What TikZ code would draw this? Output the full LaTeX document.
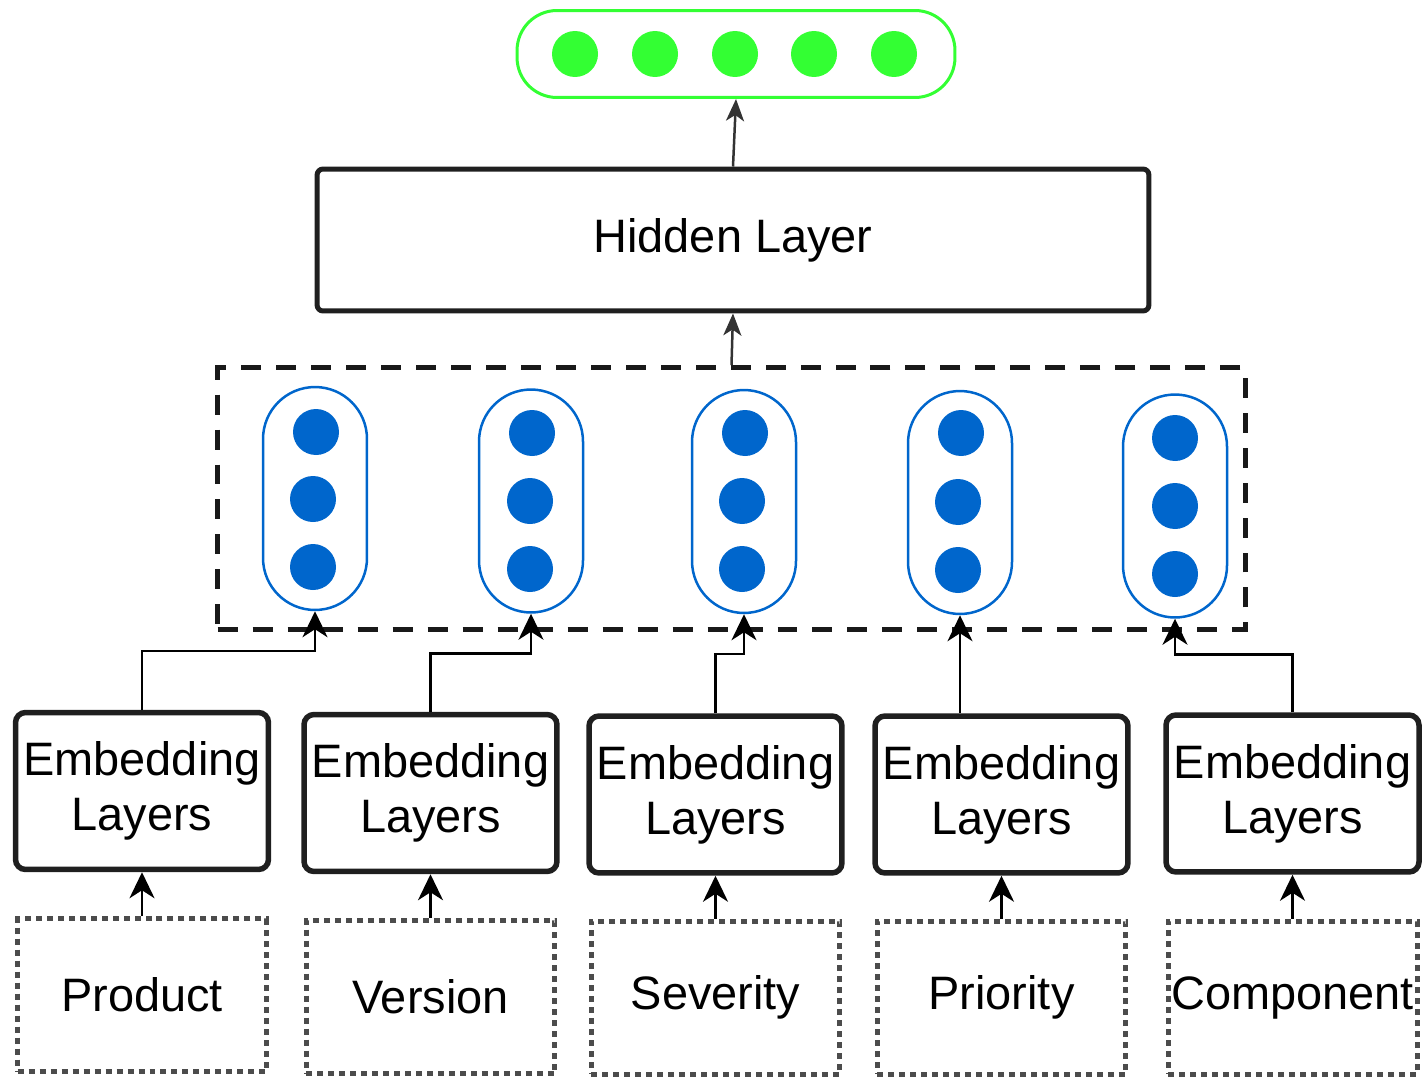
\documentclass[tikz,border=0pt]{standalone}
\usepackage{fontspec}
\setmainfont{Liberation Sans}
\usepackage{xcolor}
\usepackage{tikz}
\usetikzlibrary{arrows.meta,calc,positioning}
\definecolor{dotgreen}{HTML}{33FF33}
\definecolor{dotblue}{HTML}{0066CC}

\begin{document}
\begin{tikzpicture}[x=0.02cm, y=-0.02cm, font=\fontsize{26.7}{31.3}\selectfont,
  block/.style={rectangle,draw=black!88,line width=0.11cm,rounded corners=0.2cm,inner sep=0pt,align=center,minimum width=5.06cm,minimum height=3.14cm},
  input/.style={rectangle,draw=black!70,line width=0.1cm,dash pattern=on 0.12cm off 0.1cm,inner sep=0pt,minimum width=4.98cm,minimum height=3.06cm},
  capsule/.style={rectangle,draw=dotblue,line width=0.05cm,rounded corners=1.04cm,minimum width=2.08cm,minimum height=4.46cm},
  bdot/.style={circle,fill=dotblue,inner sep=0pt,minimum size=0.92cm},
  gdot/.style={circle,fill=dotgreen,inner sep=0pt,minimum size=0.92cm},
  conn/.style={-{Stealth[length=0.52cm,width=0.5cm,inset=0.16cm]},line width=0.05cm},
  up/.style={-{Stealth[length=0.44cm,width=0.36cm,inset=0.12cm]},draw=black!80,line width=0.05cm}]

\useasboundingbox (0,0) rectangle (1425,1078);

\node[draw=dotgreen,line width=0.06cm,rounded corners=0.8cm,minimum width=8.76cm,minimum height=1.74cm] (out) at (736,54) {};
\node[gdot] (g1) at (575,54) {};
\node[gdot] (g2) at (655,54) {};
\node[gdot] (g3) at (735,54) {};
\node[gdot] (g4) at (814,54) {};
\node[gdot] (g5) at (894,54) {};

\node[draw=black!88,line width=0.1cm,rounded corners=0.12cm,minimum width=16.64cm,minimum height=2.84cm] (hidden) at (733,240) {Hidden Layer};

\node[draw=black!90,line width=0.1cm,dash pattern=on 0.4cm off 0.3cm,minimum width=20.56cm,minimum height=5.24cm] (concat) at (731.5,498.5) {};

\node[capsule] (cap1) at (315,498.5) {};
\node[capsule] (cap2) at (531,501) {};
\node[capsule] (cap3) at (744,501.5) {};
\node[capsule] (cap4) at (960,502.5) {};
\node[capsule] (cap5) at (1175,506) {};

\node[bdot] (d11) at (316,432) {};
\node[bdot] (d12) at (313,499) {};
\node[bdot] (d13) at (313,567) {};
\node[bdot] (d21) at (532,433) {};
\node[bdot] (d22) at (530,501) {};
\node[bdot] (d23) at (530,569) {};
\node[bdot] (d31) at (745,433) {};
\node[bdot] (d32) at (742,501) {};
\node[bdot] (d33) at (742,569) {};
\node[bdot] (d41) at (961,433) {};
\node[bdot] (d42) at (958,502) {};
\node[bdot] (d43) at (958,570) {};
\node[bdot] (d51) at (1175,438) {};
\node[bdot] (d52) at (1175,506) {};
\node[bdot] (d53) at (1175,574) {};

\node[block] (emb1) at (142,791) {Embedding\\Layers};
\node[block] (emb2) at (430.5,793) {Embedding\\Layers};
\node[block] (emb3) at (715.5,794.5) {Embedding\\Layers};
\node[block] (emb4) at (1001.5,794.5) {Embedding\\Layers};
\node[block] (emb5) at (1292.5,793.5) {Embedding\\Layers};

\node[input] (in1) at (142,995) {Product};
\node[input] (in2) at (430.5,997) {Version};
\node[input] (in3) at (715.5,997.5) {Severity};
\node[input] (in4) at (1001.5,997.5) {Priority};
\node[input] (in5) at (1292.5,997.5) {Component};

\draw[conn] (in1) -- (emb1);
\draw[conn] (in2) -- (emb2);
\draw[conn] (in3) -- (emb3);
\draw[conn] (in4) -- (emb4);
\draw[conn] (in5) -- (emb5);

\draw[conn] (emb1.north) |- ($ (cap1.south)+(0,40) $) -- (cap1.south);
\draw[conn] (emb2.north) |- ($ (cap2.south)+(0,40) $) -- (cap2.south);
\draw[conn] (emb3.north) |- ($ (cap3.south)+(0,40) $) -- (cap3.south);
\draw[conn] (cap4.south |- emb4.north) -- (cap4.south);
\draw[conn] (emb5.north) |- ($ (cap5.south)+(0,36) $) -- (cap5.south);

\draw[up] (concat.north) -- (hidden.south);
\draw[up] (hidden.north) -- (out.south);

\end{tikzpicture}
\end{document}
